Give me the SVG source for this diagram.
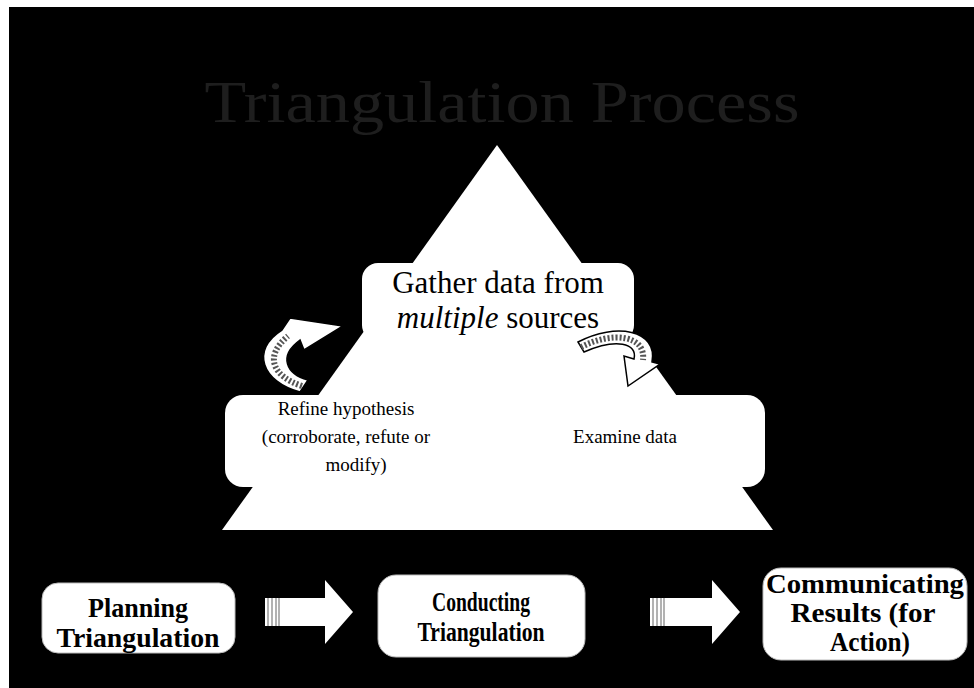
<svg xmlns="http://www.w3.org/2000/svg" width="974" height="688" viewBox="0 0 974 688">
<style>
.w{fill:#fff}
.t{font-family:"Liberation Serif","Times New Roman",serif;fill:#000}
.tb{font-family:"Liberation Serif","Times New Roman",serif;font-weight:bold;fill:#000}
.box{fill:#fff;stroke:#bbb;stroke-width:1}
.barrow{fill:#fff}
.stripe{stroke:#999;stroke-width:1.5}
.curve{fill:#fff;stroke:#000;stroke-width:1.5}
.tex{fill:none;stroke:#555;stroke-width:6;stroke-dasharray:2 2}
</style>
<rect x="0" y="0" width="974" height="688" fill="#fff"/>
<rect x="9" y="7" width="965" height="681" fill="#000"/>
<text class="t" x="502" y="122" font-size="60" text-anchor="middle" textLength="595" lengthAdjust="spacingAndGlyphs" style="fill:#1e1e1e">Triangulation Process</text>

<g id="pyramid">
<polygon class="w" points="497,145 773,530 222,530"/>
<rect class="w" x="362" y="263" width="272" height="78" rx="16"/>
<rect class="w" x="225" y="395" width="540" height="92" rx="18"/>
</g>

<g id="gather">
<text class="t" x="498" y="293" font-size="31" text-anchor="middle">Gather data from</text>
<text class="t" x="498" y="328" font-size="31" text-anchor="middle"><tspan font-style="italic">multiple</tspan> sources</text>
</g>
<g id="refine">
<text class="t" x="346" y="415" font-size="19" text-anchor="middle">Refine hypothesis</text>
<text class="t" x="346" y="443" font-size="19" text-anchor="middle">(corroborate, refute or</text>
<text class="t" x="356" y="471" font-size="19" text-anchor="middle">modify)</text>
</g>
<g id="examine">
<text class="t" x="625" y="443" font-size="19" text-anchor="middle">Examine data</text>
</g>

<g id="cycle-arrows">
<path class="curve" d="M300,392 C262,382 250,350 282,330 L290,318 L343,326 L304,350 L300,340 C278,356 286,374 308,380 Z"/>
<path class="tex" d="M302,386 C272,376 264,356 288,336"/>
<path class="curve" d="M578,342 C616,322 658,330 652,362 L660,364 L628,386 L624,356 L634,359 C638,343 616,338 584,352 Z"/>
<path class="tex" d="M581,347 C612,331 646,335 643,360"/>
</g>

<g id="planning">
<rect class="box" x="42" y="583" width="193" height="70" rx="16"/>
<text class="tb" x="138" y="617" font-size="28" text-anchor="middle" textLength="100" lengthAdjust="spacingAndGlyphs">Planning</text>
<text class="tb" x="138" y="647" font-size="28" text-anchor="middle" textLength="163" lengthAdjust="spacingAndGlyphs">Triangulation</text>
</g>
<g id="conducting">
<rect class="box" x="378" y="575" width="207" height="82" rx="18"/>
<text class="tb" x="481" y="611" font-size="28" text-anchor="middle" textLength="98" lengthAdjust="spacingAndGlyphs">Conducting</text>
<text class="tb" x="481" y="641" font-size="28" text-anchor="middle" textLength="127" lengthAdjust="spacingAndGlyphs">Triangulation</text>
</g>
<g id="communicating">
<rect class="box" x="763" y="568" width="204" height="92" rx="18"/>
<text class="tb" x="865" y="593" font-size="28" text-anchor="middle" textLength="198" lengthAdjust="spacingAndGlyphs">Communicating</text>
<text class="tb" x="863" y="622" font-size="28" text-anchor="middle" textLength="145" lengthAdjust="spacingAndGlyphs">Results (for</text>
<text class="tb" x="870" y="651" font-size="28" text-anchor="middle" textLength="80" lengthAdjust="spacingAndGlyphs">Action)</text>
</g>

<g id="connectors">
<g id="arrow1">
<polygon class="barrow" points="265,598 325,598 325,580 353,612 325,644 325,626 265,626"/>
<line class="stripe" x1="268" y1="598" x2="268" y2="626"/>
<line class="stripe" x1="272" y1="598" x2="272" y2="626"/>
<line class="stripe" x1="276" y1="598" x2="276" y2="626"/>
<line class="stripe" x1="279" y1="598" x2="279" y2="626"/>
</g>
<g id="arrow2">
<polygon class="barrow" points="650,598 712,598 712,580 740,612 712,644 712,626 650,626"/>
<line class="stripe" x1="653" y1="598" x2="653" y2="626"/>
<line class="stripe" x1="657" y1="598" x2="657" y2="626"/>
<line class="stripe" x1="661" y1="598" x2="661" y2="626"/>
<line class="stripe" x1="664" y1="598" x2="664" y2="626"/>
</g>
</g>
</svg>
